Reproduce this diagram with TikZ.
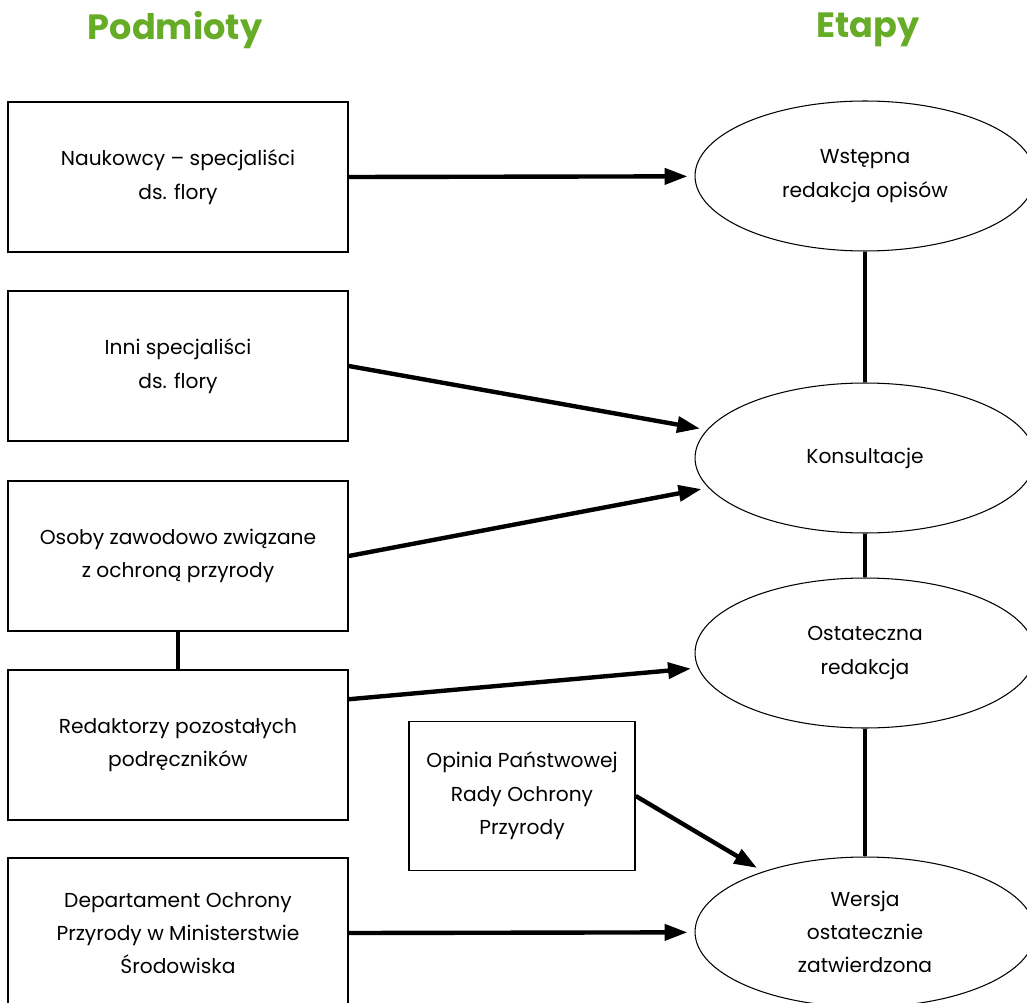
\documentclass[tikz,border=0pt]{standalone}
\usepackage{fontspec}
\setmainfont{Poppins}
\usepackage{xcolor}
\usepackage{tikz}
\usetikzlibrary{shapes.geometric, arrows.meta, positioning, calc}
\definecolor{titlegreen}{RGB}{102, 172, 38}

\begin{document}
\begin{tikzpicture}[x=0.02cm, y=-0.02cm, >={Triangle[length=13pt, width=9pt]},
    title/.style={font=\fontsize{20}{24}\selectfont\bfseries, text=titlegreen},
    podmiot/.style={draw, line width=0.9pt, minimum width=6.8cm, minimum height=3cm, align=center, font=\fontsize{11.5}{19}\selectfont},
    etap/.style={draw, ellipse, line width=0.6pt, minimum width=6.8cm, minimum height=3cm, align=center, inner sep=0pt, font=\fontsize{11.5}{19}\selectfont},
    arr/.style={line width=2.5pt, ->, shorten >=4pt},
    link/.style={line width=2.5pt}]
    \useasboundingbox (0,0) rectangle (1027,1003);

    % Column headers
    \node[title] (podm) at (175,30) {Podmioty};
    \node[title] (etapy) at (868,30) {Etapy};

    % Podmioty (left column)
    \node[podmiot] (nauk) at (178,177) {Naukowcy -- specjaliści\\ds. flory};
    \node[podmiot] (inni) at (178,366) {Inni specjaliści\\ds. flory};
    \node[podmiot] (osoby) at (178,556) {Osoby zawodowo związane\\z ochroną przyrody};
    \node[podmiot] (redak) at (178,745) {Redaktorzy pozostałych\\podręczników};
    \node[podmiot] (dep) at (178,933) {Departament Ochrony\\Przyrody w Ministerstwie\\Środowiska};
    \node[podmiot, minimum width=4.52cm, minimum height=2.98cm] (opinia) at (522,796) {Opinia Państwowej\\Rady Ochrony\\Przyrody};

    % Etapy (right column)
    \node[etap] (wstep) at (865,176) {Wstępna\\redakcja opisów};
    \node[etap] (konsult) at (865,458) {Konsultacje};
    \node[etap] (ostat) at (865,653) {Ostateczna\\redakcja};
    \node[etap] (wersja) at (865,932) {Wersja\\ostatecznie\\zatwierdzona};

    % Links between stages
    \draw[link] (wstep) -- (konsult);
    \draw[link] (konsult) -- (ostat);
    \draw[link] (ostat) -- (wersja);
    \draw[link] (osoby) -- (redak);

    % Arrows
    \draw[arr] (nauk.east) -- (wstep);
    \draw[arr] (inni.east) -- (konsult);
    \draw[arr] (osoby.east) -- (konsult);
    \draw[arr] (redak.15) -- (ostat);
    \draw[arr] (opinia.east) -- (wersja);
    \draw[arr] (dep.east) -- (wersja);
\end{tikzpicture}
\end{document}
